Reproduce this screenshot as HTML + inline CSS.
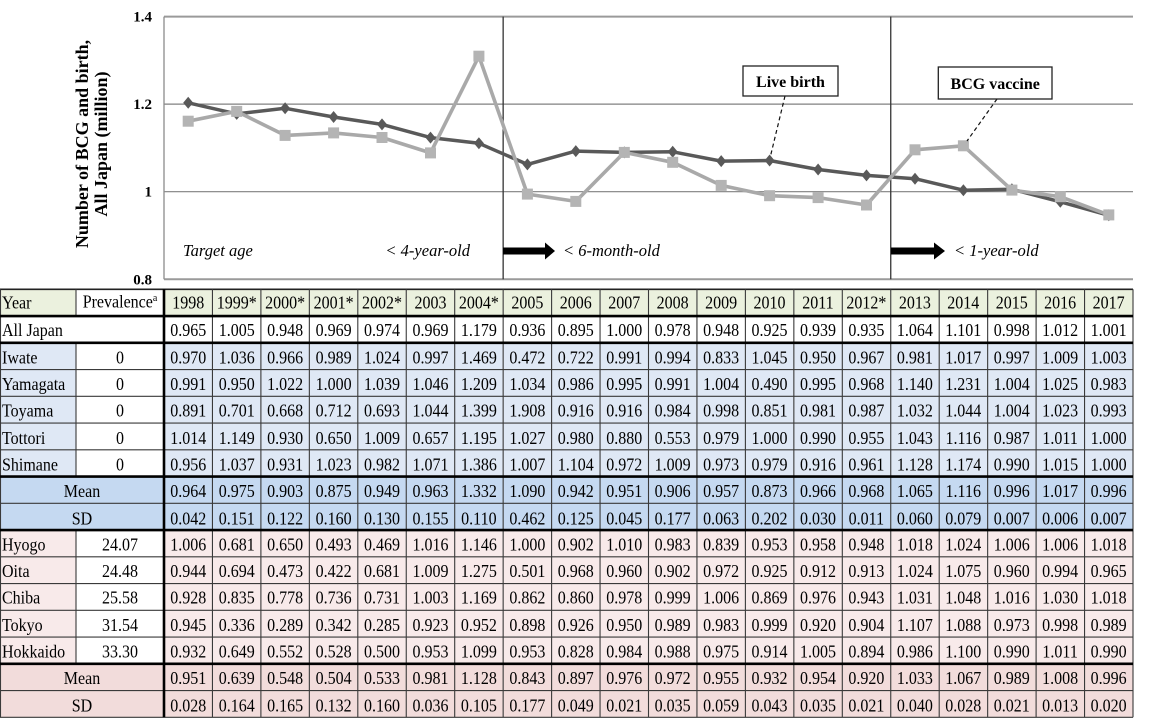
<!DOCTYPE html>
<html><head><meta charset="utf-8">
<style>
html,body{margin:0;padding:0;background:#fff;}
#wrap{position:relative;width:1150px;height:721px;overflow:hidden;background:#fff;}
svg{position:absolute;left:0;top:0;}
table{position:absolute;left:0;top:290.3px;border-collapse:collapse;table-layout:fixed;width:1133px;font-family:"Liberation Serif",serif;font-size:16px;color:#000;transform:scaleY(1.1);transform-origin:0 0;}
td{padding:0;height:24.318px;line-height:24.318px;text-align:center;white-space:nowrap;overflow:visible;border:0;}
td.l{text-align:left;padding-left:2px;}
.sup{font-size:10px;position:relative;top:-6px;}
</style></head>
<body><div id="wrap">
<svg width="1150" height="721" viewBox="0 0 1150 721" xmlns="http://www.w3.org/2000/svg">
<defs>
<path id="dm" d="M0,-6L5,0L0,6L-5,0Z" fill="#595959"/>
<rect id="sq" x="-5.5" y="-5.5" width="11" height="11" fill="#b4b4b4"/>
</defs>
<!-- table backgrounds -->
<rect x="0" y="289.3" width="76" height="26.75" fill="#ebf1de"/>
<rect x="164" y="289.3" width="969" height="26.75" fill="#ebf1de"/>
<rect x="0" y="342.8" width="76" height="133.75" fill="#dfe8f5"/>
<rect x="164" y="342.8" width="969" height="133.75" fill="#dfe8f5"/>
<rect x="0" y="476.55" width="1133" height="53.5" fill="#c5d9f1"/>
<rect x="0" y="530.05" width="76" height="133.75" fill="#f8eaea"/>
<rect x="164" y="530.05" width="969" height="133.75" fill="#f8eaea"/>
<rect x="0" y="663.8" width="1133" height="53.5" fill="#f2dcdb"/>
<!-- table thin horizontal lines -->
<g stroke="#3a3a3a" stroke-width="1.1">
<line x1="0" y1="289.3" x2="1133" y2="289.3" stroke-width="1.6" stroke="#222"/>
<line x1="0" y1="369.55" x2="1133" y2="369.55"/>
<line x1="0" y1="396.3" x2="1133" y2="396.3"/>
<line x1="0" y1="423.05" x2="1133" y2="423.05"/>
<line x1="0" y1="449.8" x2="1133" y2="449.8"/>
<line x1="0" y1="503.3" x2="1133" y2="503.3"/>
<line x1="0" y1="556.8" x2="1133" y2="556.8"/>
<line x1="0" y1="583.55" x2="1133" y2="583.55"/>
<line x1="0" y1="610.3" x2="1133" y2="610.3"/>
<line x1="0" y1="637.05" x2="1133" y2="637.05"/>
<line x1="0" y1="690.55" x2="1133" y2="690.55"/>
<line x1="0" y1="717.3" x2="1133" y2="717.3"/>
<!-- verticals -->
<line x1="0.5" y1="289.3" x2="0.5" y2="717.3"/>
<line x1="76" y1="289.3" x2="76" y2="316.05"/>
<line x1="76" y1="342.8" x2="76" y2="476.55"/>
<line x1="76" y1="530.05" x2="76" y2="663.8"/>
<line x1="212.45" y1="289.3" x2="212.45" y2="717.3"/>
<line x1="260.9" y1="289.3" x2="260.9" y2="717.3"/>
<line x1="309.35" y1="289.3" x2="309.35" y2="717.3"/>
<line x1="357.8" y1="289.3" x2="357.8" y2="717.3"/>
<line x1="406.25" y1="289.3" x2="406.25" y2="717.3"/>
<line x1="454.7" y1="289.3" x2="454.7" y2="717.3"/>
<line x1="503.15" y1="289.3" x2="503.15" y2="717.3"/>
<line x1="551.6" y1="289.3" x2="551.6" y2="717.3"/>
<line x1="600.05" y1="289.3" x2="600.05" y2="717.3"/>
<line x1="648.5" y1="289.3" x2="648.5" y2="717.3"/>
<line x1="696.95" y1="289.3" x2="696.95" y2="717.3"/>
<line x1="745.4" y1="289.3" x2="745.4" y2="717.3"/>
<line x1="793.85" y1="289.3" x2="793.85" y2="717.3"/>
<line x1="842.3" y1="289.3" x2="842.3" y2="717.3"/>
<line x1="890.75" y1="289.3" x2="890.75" y2="717.3"/>
<line x1="939.2" y1="289.3" x2="939.2" y2="717.3"/>
<line x1="987.65" y1="289.3" x2="987.65" y2="717.3"/>
<line x1="1036.1" y1="289.3" x2="1036.1" y2="717.3"/>
<line x1="1084.55" y1="289.3" x2="1084.55" y2="717.3"/>
<line x1="1133" y1="289.3" x2="1133" y2="717.3"/>
</g>
<!-- thick lines -->
<g stroke="#000" stroke-width="2.6">
<line x1="0" y1="316.05" x2="1133" y2="316.05"/>
<line x1="0" y1="342.8" x2="1133" y2="342.8"/>
<line x1="0" y1="476.55" x2="1133" y2="476.55"/>
<line x1="0" y1="530.05" x2="1133" y2="530.05"/>
<line x1="0" y1="663.8" x2="1133" y2="663.8"/>
<line x1="164" y1="289.3" x2="164" y2="717.3"/>
</g>

<!-- chart gridlines -->
<line x1="164" y1="16.6" x2="1133" y2="16.6" stroke="#9a9a9a" stroke-width="2"/>
<line x1="164" y1="104.1" x2="1133" y2="104.1" stroke="#808080" stroke-width="1.2"/>
<line x1="164" y1="191.7" x2="1133" y2="191.7" stroke="#808080" stroke-width="1.2"/>
<line x1="164" y1="279.3" x2="1133" y2="279.3" stroke="#9a9a9a" stroke-width="2"/>
<line x1="164" y1="16.6" x2="164" y2="279.3" stroke="#8c8c8c" stroke-width="1.3"/>
<line x1="503.15" y1="16.6" x2="503.15" y2="279.3" stroke="#333" stroke-width="1.3"/>
<line x1="890.75" y1="16.6" x2="890.75" y2="279.3" stroke="#333" stroke-width="1.3"/>

<!-- y tick labels -->
<g font-family="Liberation Serif, serif" font-weight="bold" font-size="15" text-anchor="end" fill="#000">
<text x="152" y="21.7">1.4</text>
<text x="152" y="109">1.2</text>
<text x="152" y="196.7">1</text>
<text x="152" y="284.3">0.8</text>
</g>
<!-- y title -->
<g font-family="Liberation Serif, serif" font-weight="bold" font-size="18" text-anchor="middle" fill="#000">
<text transform="translate(88,144) rotate(-90)">Number of BCG and birth,</text>
<text transform="translate(107,144) rotate(-90)">All Japan (million)</text>
</g>

<!-- italic labels -->
<g font-family="Liberation Serif, serif" font-style="italic" font-size="16.5" fill="#000">
<text x="183" y="256">Target age</text>
<text x="470" y="256" text-anchor="end">&lt; 4-year-old</text>
<text x="563" y="256">&lt; 6-month-old</text>
<text x="954" y="256">&lt; 1-year-old</text>
</g>
<!-- arrows -->
<rect x="503" y="247.5" width="43" height="7" fill="#000"/>
<polygon points="545,242.5 555,251 545,259.5" fill="#000"/>
<rect x="891" y="247.5" width="44" height="7" fill="#000"/>
<polygon points="934,242.5 945,251 934,259.5" fill="#000"/>

<!-- series: live birth -->
<polyline fill="none" stroke="#595959" stroke-width="3.5" stroke-linejoin="round"
points="188.2,102.8 236.7,113.9 285.1,108.3 333.6,117.0 382.0,124.4 430.5,137.6 478.9,143.3 527.4,164.4 575.8,151.1 624.3,152.4 672.7,151.8 721.2,161.1 769.6,160.5 818.1,169.5 866.5,175.4 915.0,178.7 963.4,190.2 1011.9,189.2 1060.3,201.8 1108.8,215.3"/>
<use href="#dm" x="188.2" y="102.8"/><use href="#dm" x="236.7" y="113.9"/><use href="#dm" x="285.1" y="108.3"/><use href="#dm" x="333.6" y="117.0"/><use href="#dm" x="382.0" y="124.4"/><use href="#dm" x="430.5" y="137.6"/><use href="#dm" x="478.9" y="143.3"/><use href="#dm" x="527.4" y="164.4"/><use href="#dm" x="575.8" y="151.1"/><use href="#dm" x="624.3" y="152.4"/><use href="#dm" x="672.7" y="151.8"/><use href="#dm" x="721.2" y="161.1"/><use href="#dm" x="769.6" y="160.5"/><use href="#dm" x="818.1" y="169.5"/><use href="#dm" x="866.5" y="175.4"/><use href="#dm" x="915.0" y="178.7"/><use href="#dm" x="963.4" y="190.2"/><use href="#dm" x="1011.9" y="189.2"/><use href="#dm" x="1060.3" y="201.8"/><use href="#dm" x="1108.8" y="215.3"/>

<!-- series: BCG -->
<polyline fill="none" stroke="#a9a9a9" stroke-width="3.6" stroke-linejoin="round"
points="188.2,121.2 236.7,111.4 285.1,135.4 333.6,132.9 382.0,137.5 430.5,152.9 478.9,56.2 527.4,194.1 575.8,201.4 624.3,152.4 672.7,162.3 721.2,185.4 769.6,195.7 818.1,197.6 866.5,205.0 915.0,149.8 963.4,145.8 1011.9,190.1 1060.3,196.7 1108.8,214.9"/>
<use href="#sq" x="188.2" y="121.2"/><use href="#sq" x="236.7" y="111.4"/><use href="#sq" x="285.1" y="135.4"/><use href="#sq" x="333.6" y="132.9"/><use href="#sq" x="382.0" y="137.5"/><use href="#sq" x="430.5" y="152.9"/><use href="#sq" x="478.9" y="56.2"/><use href="#sq" x="527.4" y="194.1"/><use href="#sq" x="575.8" y="201.4"/><use href="#sq" x="624.3" y="152.4"/><use href="#sq" x="672.7" y="162.3"/><use href="#sq" x="721.2" y="185.4"/><use href="#sq" x="769.6" y="195.7"/><use href="#sq" x="818.1" y="197.6"/><use href="#sq" x="866.5" y="205.0"/><use href="#sq" x="915.0" y="149.8"/><use href="#sq" x="963.4" y="145.8"/><use href="#sq" x="1011.9" y="190.1"/><use href="#sq" x="1060.3" y="196.7"/><use href="#sq" x="1108.8" y="214.9"/>

<!-- callouts -->
<line x1="785" y1="96" x2="770.5" y2="156" stroke="#111" stroke-width="1.2" stroke-dasharray="4 3"/>
<line x1="997" y1="99" x2="967" y2="141" stroke="#111" stroke-width="1.2" stroke-dasharray="4 3"/>
<rect x="743" y="66" width="95" height="30" fill="#fff" stroke="#222" stroke-width="1.3"/>
<rect x="938.3" y="67" width="113.7" height="32" fill="#fff" stroke="#222" stroke-width="1.3"/>
<g font-family="Liberation Serif, serif" font-weight="bold" font-size="16" text-anchor="middle" fill="#000">
<text x="790.5" y="87">Live birth</text>
<text x="995.2" y="89">BCG vaccine</text>
</g>
</svg>

<table>
<colgroup><col style="width:76px"><col style="width:88px"><col style="width:48.45px"><col style="width:48.45px"><col style="width:48.45px"><col style="width:48.45px"><col style="width:48.45px"><col style="width:48.45px"><col style="width:48.45px"><col style="width:48.45px"><col style="width:48.45px"><col style="width:48.45px"><col style="width:48.45px"><col style="width:48.45px"><col style="width:48.45px"><col style="width:48.45px"><col style="width:48.45px"><col style="width:48.45px"><col style="width:48.45px"><col style="width:48.45px"><col style="width:48.45px"><col style="width:48.45px"></colgroup>
<tr><td class="l">Year</td><td>Prevalence<span class="sup">a</span></td><td>1998</td><td>1999*</td><td>2000*</td><td>2001*</td><td>2002*</td><td>2003</td><td>2004*</td><td>2005</td><td>2006</td><td>2007</td><td>2008</td><td>2009</td><td>2010</td><td>2011</td><td>2012*</td><td>2013</td><td>2014</td><td>2015</td><td>2016</td><td>2017</td></tr>
<tr><td class="l" colspan="2">All Japan</td><td>0.965</td><td>1.005</td><td>0.948</td><td>0.969</td><td>0.974</td><td>0.969</td><td>1.179</td><td>0.936</td><td>0.895</td><td>1.000</td><td>0.978</td><td>0.948</td><td>0.925</td><td>0.939</td><td>0.935</td><td>1.064</td><td>1.101</td><td>0.998</td><td>1.012</td><td>1.001</td></tr>
<tr><td class="l">Iwate</td><td>0</td><td>0.970</td><td>1.036</td><td>0.966</td><td>0.989</td><td>1.024</td><td>0.997</td><td>1.469</td><td>0.472</td><td>0.722</td><td>0.991</td><td>0.994</td><td>0.833</td><td>1.045</td><td>0.950</td><td>0.967</td><td>0.981</td><td>1.017</td><td>0.997</td><td>1.009</td><td>1.003</td></tr>
<tr><td class="l">Yamagata</td><td>0</td><td>0.991</td><td>0.950</td><td>1.022</td><td>1.000</td><td>1.039</td><td>1.046</td><td>1.209</td><td>1.034</td><td>0.986</td><td>0.995</td><td>0.991</td><td>1.004</td><td>0.490</td><td>0.995</td><td>0.968</td><td>1.140</td><td>1.231</td><td>1.004</td><td>1.025</td><td>0.983</td></tr>
<tr><td class="l">Toyama</td><td>0</td><td>0.891</td><td>0.701</td><td>0.668</td><td>0.712</td><td>0.693</td><td>1.044</td><td>1.399</td><td>1.908</td><td>0.916</td><td>0.916</td><td>0.984</td><td>0.998</td><td>0.851</td><td>0.981</td><td>0.987</td><td>1.032</td><td>1.044</td><td>1.004</td><td>1.023</td><td>0.993</td></tr>
<tr><td class="l">Tottori</td><td>0</td><td>1.014</td><td>1.149</td><td>0.930</td><td>0.650</td><td>1.009</td><td>0.657</td><td>1.195</td><td>1.027</td><td>0.980</td><td>0.880</td><td>0.553</td><td>0.979</td><td>1.000</td><td>0.990</td><td>0.955</td><td>1.043</td><td>1.116</td><td>0.987</td><td>1.011</td><td>1.000</td></tr>
<tr><td class="l">Shimane</td><td>0</td><td>0.956</td><td>1.037</td><td>0.931</td><td>1.023</td><td>0.982</td><td>1.071</td><td>1.386</td><td>1.007</td><td>1.104</td><td>0.972</td><td>1.009</td><td>0.973</td><td>0.979</td><td>0.916</td><td>0.961</td><td>1.128</td><td>1.174</td><td>0.990</td><td>1.015</td><td>1.000</td></tr>
<tr><td colspan="2">Mean</td><td>0.964</td><td>0.975</td><td>0.903</td><td>0.875</td><td>0.949</td><td>0.963</td><td>1.332</td><td>1.090</td><td>0.942</td><td>0.951</td><td>0.906</td><td>0.957</td><td>0.873</td><td>0.966</td><td>0.968</td><td>1.065</td><td>1.116</td><td>0.996</td><td>1.017</td><td>0.996</td></tr>
<tr><td colspan="2">SD</td><td>0.042</td><td>0.151</td><td>0.122</td><td>0.160</td><td>0.130</td><td>0.155</td><td>0.110</td><td>0.462</td><td>0.125</td><td>0.045</td><td>0.177</td><td>0.063</td><td>0.202</td><td>0.030</td><td>0.011</td><td>0.060</td><td>0.079</td><td>0.007</td><td>0.006</td><td>0.007</td></tr>
<tr><td class="l">Hyogo</td><td>24.07</td><td>1.006</td><td>0.681</td><td>0.650</td><td>0.493</td><td>0.469</td><td>1.016</td><td>1.146</td><td>1.000</td><td>0.902</td><td>1.010</td><td>0.983</td><td>0.839</td><td>0.953</td><td>0.958</td><td>0.948</td><td>1.018</td><td>1.024</td><td>1.006</td><td>1.006</td><td>1.018</td></tr>
<tr><td class="l">Oita</td><td>24.48</td><td>0.944</td><td>0.694</td><td>0.473</td><td>0.422</td><td>0.681</td><td>1.009</td><td>1.275</td><td>0.501</td><td>0.968</td><td>0.960</td><td>0.902</td><td>0.972</td><td>0.925</td><td>0.912</td><td>0.913</td><td>1.024</td><td>1.075</td><td>0.960</td><td>0.994</td><td>0.965</td></tr>
<tr><td class="l">Chiba</td><td>25.58</td><td>0.928</td><td>0.835</td><td>0.778</td><td>0.736</td><td>0.731</td><td>1.003</td><td>1.169</td><td>0.862</td><td>0.860</td><td>0.978</td><td>0.999</td><td>1.006</td><td>0.869</td><td>0.976</td><td>0.943</td><td>1.031</td><td>1.048</td><td>1.016</td><td>1.030</td><td>1.018</td></tr>
<tr><td class="l">Tokyo</td><td>31.54</td><td>0.945</td><td>0.336</td><td>0.289</td><td>0.342</td><td>0.285</td><td>0.923</td><td>0.952</td><td>0.898</td><td>0.926</td><td>0.950</td><td>0.989</td><td>0.983</td><td>0.999</td><td>0.920</td><td>0.904</td><td>1.107</td><td>1.088</td><td>0.973</td><td>0.998</td><td>0.989</td></tr>
<tr><td class="l">Hokkaido</td><td>33.30</td><td>0.932</td><td>0.649</td><td>0.552</td><td>0.528</td><td>0.500</td><td>0.953</td><td>1.099</td><td>0.953</td><td>0.828</td><td>0.984</td><td>0.988</td><td>0.975</td><td>0.914</td><td>1.005</td><td>0.894</td><td>0.986</td><td>1.100</td><td>0.990</td><td>1.011</td><td>0.990</td></tr>
<tr><td colspan="2">Mean</td><td>0.951</td><td>0.639</td><td>0.548</td><td>0.504</td><td>0.533</td><td>0.981</td><td>1.128</td><td>0.843</td><td>0.897</td><td>0.976</td><td>0.972</td><td>0.955</td><td>0.932</td><td>0.954</td><td>0.920</td><td>1.033</td><td>1.067</td><td>0.989</td><td>1.008</td><td>0.996</td></tr>
<tr><td colspan="2">SD</td><td>0.028</td><td>0.164</td><td>0.165</td><td>0.132</td><td>0.160</td><td>0.036</td><td>0.105</td><td>0.177</td><td>0.049</td><td>0.021</td><td>0.035</td><td>0.059</td><td>0.043</td><td>0.035</td><td>0.021</td><td>0.040</td><td>0.028</td><td>0.021</td><td>0.013</td><td>0.020</td></tr>
</table>
</div></body></html>
